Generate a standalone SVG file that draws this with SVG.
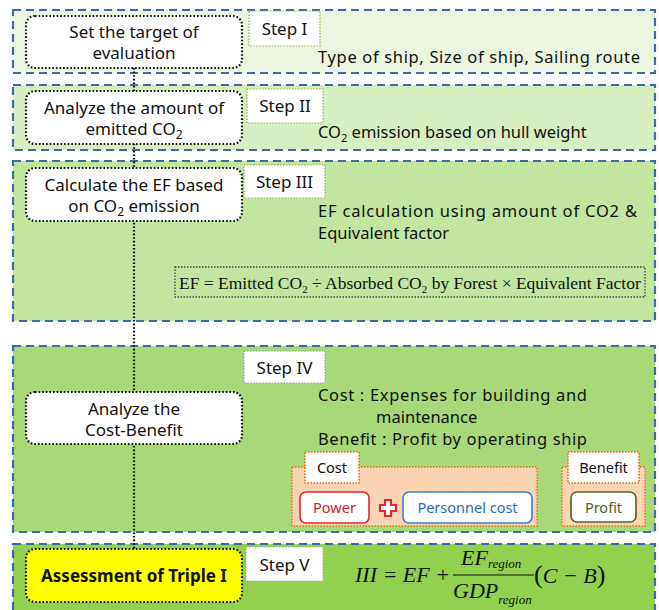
<svg xmlns="http://www.w3.org/2000/svg" width="659" height="610" viewBox="0 0 659 610">
<style>
.panel{stroke:#3f6aa6;stroke-width:2.2;stroke-dasharray:8 5}
.node{fill:#fff;stroke:#111;stroke-width:2.2;stroke-dasharray:1.6 2}
.nt{font-family:"Noto Sans","Liberation Sans",sans-serif;font-size:17px;fill:#111;text-anchor:middle}
.step{fill:#fff;stroke:#8aaa55;stroke-width:1.2;stroke-dasharray:1.5 1.5}
.st{font-family:"Noto Sans","Liberation Sans",sans-serif;font-size:17px;fill:#111;text-anchor:middle}
.rt{font-family:"Noto Sans","Liberation Sans",sans-serif;font-size:16.5px;fill:#111}
.serif{font-family:"Liberation Serif","DejaVu Serif",serif;fill:#111}
.tab{fill:#fff;stroke:#e46c0a;stroke-width:1.6;stroke-dasharray:1.5 1.5}
.peach{fill:#fbd4b4;stroke:#e46c0a;stroke-width:1.3;stroke-dasharray:1.5 1.5}
.bt{font-family:"Noto Sans","Liberation Sans",sans-serif;font-size:14.5px;text-anchor:middle}
</style>
<rect width="659" height="610" fill="#fff"/>
<g id="panels">
<rect class="panel" x="13" y="10" width="642" height="63" fill="#ebf5df"/>
<rect class="panel" x="13" y="85" width="642" height="65" fill="#d7eec0"/>
<rect class="panel" x="13" y="161" width="642" height="160" fill="#c2e5a0"/>
<rect class="panel" x="13" y="346" width="642" height="186" fill="#a9d879"/>
<rect class="panel" x="13" y="544" width="642" height="80" fill="#92d050"/>
</g>
<g id="connectors">
<line x1="134" y1="68" x2="134" y2="549" stroke="#111" stroke-width="2.2" stroke-dasharray="1.6 2"/>
</g>
<g id="node1">
<rect class="node" x="26" y="16" width="216" height="52" rx="9"/>
<text class="nt" x="134" y="38">Set the target of</text>
<text class="nt" x="134" y="59">evaluation</text>
</g>
<g id="node2">
<rect class="node" x="26" y="91" width="216" height="53" rx="9"/>
<text class="nt" x="134" y="114">Analyze the amount of</text>
<text class="nt" x="134" y="135">emitted CO<tspan font-size="12" dy="4">2</tspan></text>
</g>
<g id="node3">
<rect class="node" x="26" y="168" width="216" height="53" rx="9"/>
<text class="nt" x="134" y="191">Calculate the EF based</text>
<text class="nt" x="134" y="212">on CO<tspan font-size="12" dy="4">2</tspan><tspan dy="-4"> emission</tspan></text>
</g>
<g id="node4">
<rect class="node" x="26" y="392" width="216" height="52" rx="9"/>
<text class="nt" x="134" y="415">Analyze the</text>
<text class="nt" x="134" y="436">Cost-Benefit</text>
</g>
<g id="node5">
<rect class="node" x="26" y="549" width="216" height="53" rx="9" style="fill:#ffff00"/>
<text class="nt" x="134" y="582" font-weight="bold">Assessment of Triple I</text>
</g>
<g id="step1">
<rect class="step" x="249" y="11" width="71" height="35"/>
<text class="st" x="284.5" y="35">Step I</text>
<text class="rt" x="318" y="63" textLength="322" lengthAdjust="spacing">Type of ship, Size of ship, Sailing route</text>
</g>
<g id="step2">
<rect class="step" x="247" y="89" width="76" height="34"/>
<text class="st" x="285" y="112">Step II</text>
<text class="rt" x="318" y="138">CO<tspan font-size="11" dy="4">2</tspan><tspan dy="-4"> emission based on hull weight</tspan></text>
</g>
<g id="step3">
<rect class="step" x="244" y="165" width="81" height="33"/>
<text class="st" x="284.5" y="188">Step III</text>
<text class="rt" x="318" y="217" textLength="319" lengthAdjust="spacing">EF calculation using amount of CO2 &amp;</text>
<text class="rt" x="318" y="239">Equivalent factor</text>
<rect x="175" y="267" width="470" height="30" fill="none" stroke="#444" stroke-width="1.3" stroke-dasharray="1.5 1.5"/>
<text class="serif" x="179" y="289" font-size="17.5">EF = Emitted CO<tspan font-size="11" dy="4">2</tspan><tspan dy="-4"> ÷ Absorbed CO</tspan><tspan font-size="11" dy="4">2</tspan><tspan dy="-4"> by Forest × Equivalent Factor</tspan></text>
</g>
<g id="step4">
<rect x="244" y="351" width="81" height="32" fill="#fff" stroke="#999" stroke-width="1.2" stroke-dasharray="1.5 1.5"/>
<text class="st" x="284.5" y="374">Step IV</text>
<text class="rt" x="318" y="401" textLength="269" lengthAdjust="spacing">Cost : Expenses for building and</text>
<text class="rt" x="376" y="423">maintenance</text>
<text class="rt" x="318" y="445" textLength="269" lengthAdjust="spacing">Benefit : Profit by operating ship</text>
</g>
<g id="cost">
<rect class="peach" x="292" y="467" width="245" height="59"/>
<rect class="tab" x="305" y="452" width="54" height="31"/>
<text class="bt" x="332" y="473" fill="#111">Cost</text>
<rect x="300" y="492" width="69" height="31" rx="6" fill="#fff" stroke="#e0282e" stroke-width="1.6"/>
<text class="bt" x="334.5" y="513" fill="#d0202a">Power</text>
<path d="M385 500h6v5h5v6h-5v5h-6v-5h-5v-6h5z" fill="#fff" stroke="#e0282e" stroke-width="2.2"/>
<rect x="403" y="492" width="129" height="31" rx="6" fill="#fff" stroke="#3a7fd0" stroke-width="1.6"/>
<text class="bt" x="467.5" y="513" fill="#2e6bbf">Personnel cost</text>
</g>
<g id="benefit">
<rect class="peach" x="562" y="467" width="83" height="59"/>
<rect class="tab" x="568" y="452" width="71" height="31"/>
<text class="bt" x="603.5" y="473" fill="#111">Benefit</text>
<rect x="571" y="492" width="65" height="30" rx="6" fill="#fff" stroke="#4f6228" stroke-width="1.6"/>
<text class="bt" x="603.5" y="513" fill="#4f6228">Profit</text>
</g>
<g id="step5">
<rect class="step" x="246" y="547" width="77" height="34" style="stroke:#aaa"/>
<text class="st" x="284.5" y="571">Step V</text>
<g class="serif" font-style="italic">
<text x="355" y="582" font-size="22">III = EF +</text>
<text x="461" y="565" font-size="22">EF<tspan font-size="13" dy="3">region</tspan></text>
<line x1="453" y1="575" x2="534" y2="575" stroke="#111" stroke-width="1.2"/>
<text x="453" y="598" font-size="22">GDP<tspan font-size="13" dy="6">region</tspan></text>
<text x="534" y="583" font-size="22"><tspan font-style="normal" font-size="26">(</tspan>C − B<tspan font-style="normal" font-size="26">)</tspan></text>
</g>
</g>
</svg>
